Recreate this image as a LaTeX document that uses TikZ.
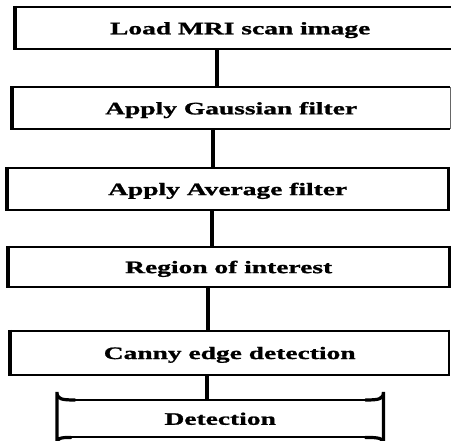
\documentclass[tikz,border=0pt]{standalone}
\usepackage{fontspec}
\newfontfamily\boxfont[FakeStretch=1.57,FakeBold=1.2]{Liberation Serif Bold}
\begin{document}
\begin{tikzpicture}[x=1pt,y=-1pt,
  box/.style={draw=none,fill=white,anchor=north west,inner sep=0pt,
    font=\boxfont\fontsize{17.5}{20}\selectfont,text depth=0pt},
  edge/.style={line width=2pt,black},
  thick edge/.style={line width=4.5pt,black},
  conn/.style={line width=3.5pt,black}]
\clip (0,0) rectangle (451,441);
\fill[white] (0,0) rectangle (451,441);
% boxes
\node[box,minimum width=450pt,minimum height=42pt] (b1) at (15,7) {Load MRI scan image};
\node[box,minimum width=438pt,minimum height=41pt] (b2) at (12,87.5) {Apply Gaussian filter};
\node[box,minimum width=441pt,minimum height=41.5pt] (b3) at (7,168) {Apply Average filter};
\node[box,minimum width=441pt,minimum height=39.5pt] (b4) at (8,247) {Region of interest};
\node[box,minimum width=439pt,minimum height=43.5pt] (b5) at (10,331) {Canny edge detection};
\node[box,minimum width=326pt,minimum height=37pt] (d) at (57,400) {Detection};
% borders
\foreach \n in {b1,b2,b3,b4,b5}{
  \draw[edge] (\n.north west) -- (\n.north east);
  \draw[edge] (\n.south west) -- (\n.south east);
  \draw[thick edge] ([yshift=1pt]\n.north west) -- ([yshift=-1pt]\n.south west);
}
\draw[line width=1pt,black!60] (b2.north east) -- (b2.south east);
\draw[line width=3.5pt] ([yshift=1pt]b3.north east) -- ([yshift=-1pt]b3.south east);
\draw[line width=2.8pt] ([yshift=1pt]b4.north east) -- ([yshift=-1pt]b4.south east);
\draw[edge] ([yshift=1pt]b5.north east) -- ([yshift=-1pt]b5.south east);
% terminal
\draw[edge] ([xshift=18pt]d.north west) -- ([xshift=-18pt]d.north east);
\draw[edge] ([xshift=14pt]d.south west) -- ([xshift=-18pt]d.south east);
\draw[line width=3.2pt,line cap=round]
  ([xshift=18pt]d.north west) .. controls ([xshift=4pt]d.north west) and ([yshift=1pt]d.north west) .. ([yshift=8pt]d.north west)
  -- ([yshift=-6pt]d.south west) .. controls ([yshift=-1pt]d.south west) and ([xshift=3pt]d.south west) .. ([xshift=14pt]d.south west);
\draw[line width=3.2pt,line cap=round]
  ([xshift=-18pt]d.north east) .. controls ([xshift=-4pt]d.north east) and ([yshift=1pt]d.north east) .. ([yshift=8pt]d.north east)
  -- ([yshift=-6pt]d.south east) .. controls ([yshift=-1pt]d.south east) and ([xshift=-4pt]d.south east) .. ([xshift=-18pt]d.south east);
% connectors
\draw[conn] (b1.south -| 217,0) -- (b2.north -| 217,0);
\draw[conn] (b2.south -| 213,0) -- (b3.north -| 213,0);
\draw[conn] (b3.south -| 212,0) -- (b4.north -| 212,0);
\draw[conn] (b4.south -| 208,0) -- (b5.north -| 208,0);
\draw[conn] (b5.south -| 207,0) -- (d.north -| 207,0);
\end{tikzpicture}
\end{document}
